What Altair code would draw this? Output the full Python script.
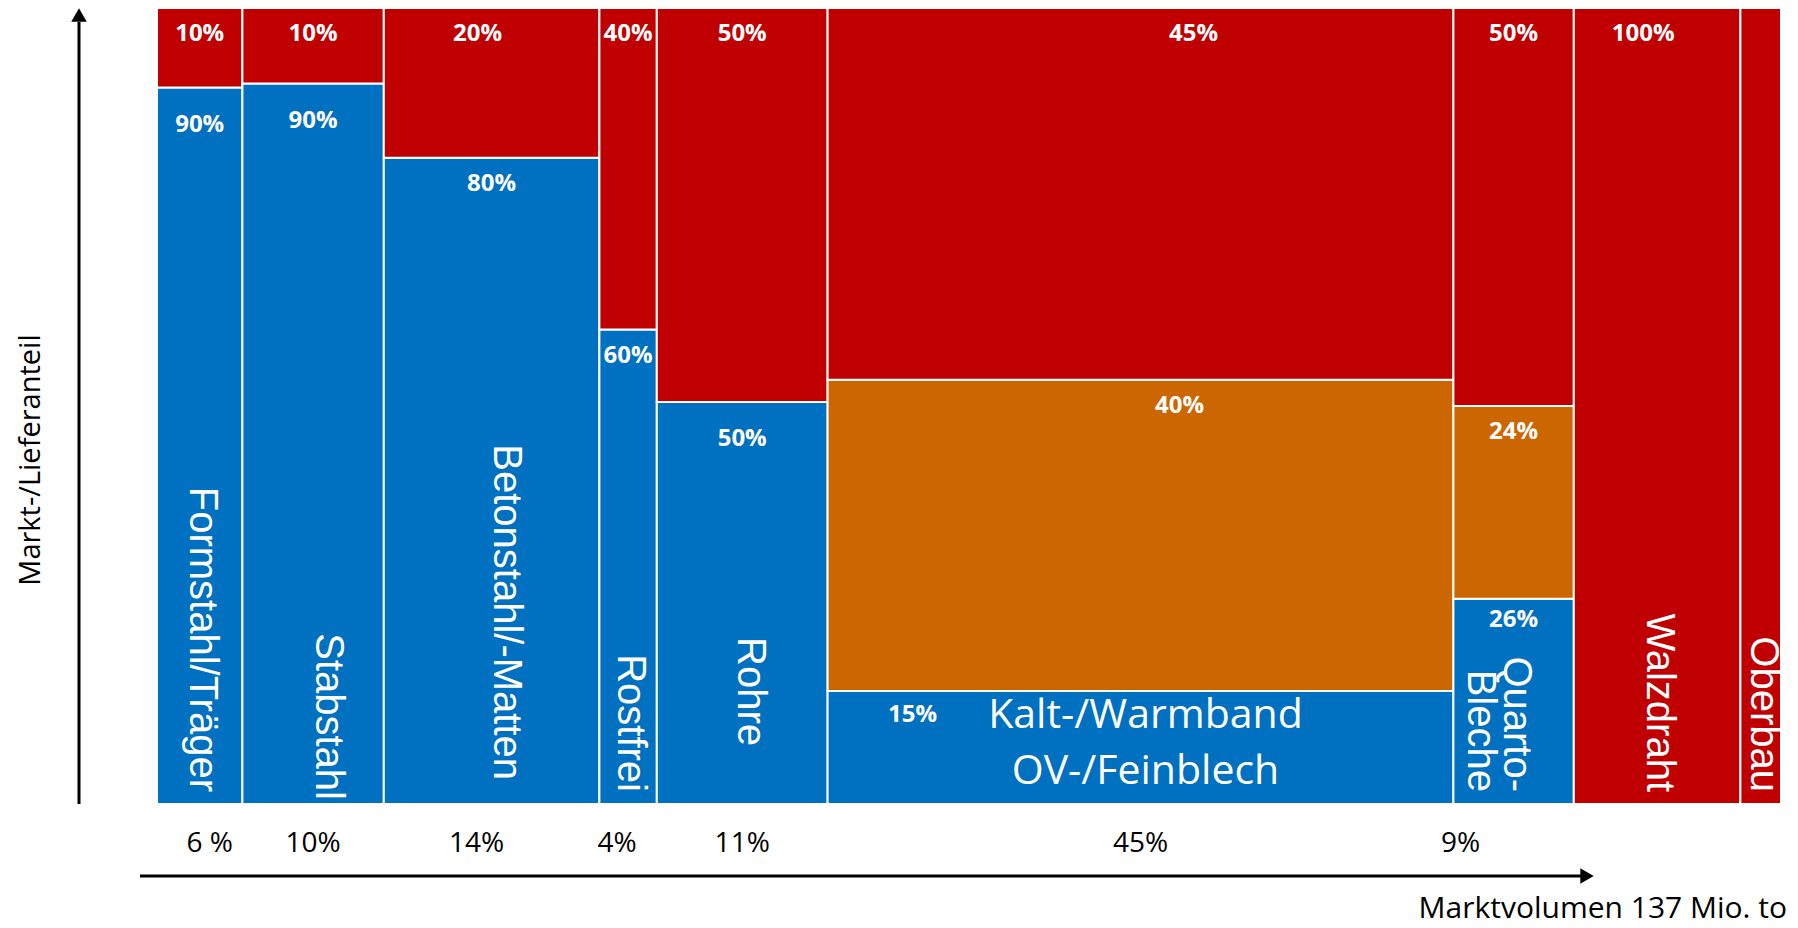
import altair as alt
import pandas as pd

# ---- data ----
categories = ["Formstahl/Träger", "Stabstahl", "Betonstahl/-Matten", "Rostfrei", "Rohre",
              "Kalt-/Warmband\nOV-/Feinblech", "Quarto-\nBleche", "Walzdraht", "Oberbau"]
volume_labels = ["6 %", "10%", "14%", "4%", "11%", "45%", "9%", "", ""]
column_widths = [6.1, 10.1, 15.4, 4.1, 12.2, 44.7, 8.6, 11.9, 2.9]   # drawn market volume share
blue_share = [90.0, 90.5, 81.2, 59.6, 50.5, 14.2, 25.8, 0.0, 0.0]
orange_share = [0.0, 0.0, 0.0, 0.0, 0.0, 39.1, 24.2, 0.0, 0.0]
red_share = [10.0, 9.5, 18.8, 40.4, 49.5, 46.7, 50.0, 100.0, 100.0]
blue_labels = ["90%", "90%", "80%", "60%", "50%", "15%", "26%", "", ""]
orange_labels = ["", "", "", "", "", "40%", "24%", "", ""]
red_labels = ["10%", "10%", "20%", "40%", "50%", "45%", "50%", "100%", ""]

segments = ["blue", "orange", "red"]
seg_colors = ["#0070C0", "#CC6600", "#C00000"]

rows, cols = [], []
x0 = 0.0
for i, cat in enumerate(categories):
    x1 = x0 + column_widths[i]
    y = 0.0
    for seg, shares, labels in (("blue", blue_share, blue_labels),
                                ("orange", orange_share, orange_labels),
                                ("red", red_share, red_labels)):
        h = shares[i]
        if h > 0:
            rows.append(dict(cat=i, seg=seg, x0=x0, x1=x1, xc=(x0 + x1) / 2,
                             y0=y, y1=y + h, label=labels[i]))
            y += h
    cols.append(dict(cat=i, name=cat, xc=(x0 + x1) / 2, vol=volume_labels[i]))
    x0 = x1
total = x0
seg_df = pd.DataFrame(rows)
col_df = pd.DataFrame(cols)
one = pd.DataFrame({"k": [0]})

W, H = 1624, 796
xs = alt.Scale(domain=[0, total], nice=False, zero=False)
ys = alt.Scale(domain=[0, 100], nice=False, zero=False)
X = lambda f: alt.X(f, type="quantitative", scale=xs, axis=None)
Y = lambda f: alt.Y(f, type="quantitative", scale=ys, axis=None)

rects = alt.Chart(seg_df).mark_rect(stroke="white", strokeWidth=2).encode(
    x=X("x0"), x2="x1", y=Y("y0"), y2="y1",
    color=alt.Color("seg:N", scale=alt.Scale(domain=segments, range=seg_colors), legend=None),
)

pct_style = dict(font="Open Sans", fontWeight="bold", fontSize=24, color="white", baseline="middle")


def pct_layer(cond, dx=0, dy=26):
    return alt.Chart(seg_df).transform_filter(cond).mark_text(dx=dx, dy=dy, **pct_style).encode(
        x=X("xc"), y=Y("y1"), text="label:N")


pct_layers = [
    pct_layer("datum.label != '' && datum.cat != 5 && !(datum.seg == 'blue' && (datum.cat <= 1 || datum.cat == 4 || datum.cat == 6)) && !(datum.seg == 'red' && (datum.cat == 2 || datum.cat == 7))"),
    pct_layer("datum.seg == 'red' && (datum.cat == 2 || datum.cat == 7)", dx=-14),
    pct_layer("datum.seg == 'blue' && (datum.cat <= 1 || datum.cat == 4)", dy=37),
    pct_layer("datum.seg == 'blue' && datum.cat == 6", dy=21),
    pct_layer("datum.cat == 5 && datum.seg == 'red'", dx=53),
    pct_layer("datum.cat == 5 && datum.seg == 'orange'", dx=39),
    pct_layer("datum.cat == 5 && datum.seg == 'blue'", dx=-228, dy=24),
]

rot_style = dict(font="Liberation Sans", fontSize=40, color="white", angle=90, align="right",
                 baseline="middle", lineBreak="\n", lineHeight=36)


def rot_layer(cond, dx=0, dy=0):
    # with angle 90, dx runs along the text (downwards), dy across it (positive = left)
    return alt.Chart(col_df).transform_filter(cond).mark_text(dx=dx, dy=dy, **rot_style).encode(
        x=X("xc"), y=alt.value(784), text="name:N")


rot_layers = [
    rot_layer("datum.cat == 0 || datum.cat == 3 || datum.cat >= 6", dy=-2),
    rot_layer("datum.cat == 1", dx=8, dy=-15),
    rot_layer("datum.cat == 2", dx=-12, dy=-14),
    rot_layer("datum.cat == 4", dx=-46, dy=-8),
]
cat_kalt = alt.Chart(col_df).transform_filter("datum.cat == 5").mark_text(
    font="Open Sans", fontSize=41, color="white", align="center", baseline="middle",
    lineBreak="\n", lineHeight=56, dx=5).encode(x=X("xc"), y=alt.value(708), text="name:N")

vol_style = dict(font="Open Sans", fontSize=28, color="black", baseline="middle")


def vol_layer(cond, dx=0):
    return alt.Chart(col_df).transform_filter(cond).mark_text(dx=dx, **vol_style).encode(
        x=X("xc"), y=alt.value(836), text="vol:N")


vol_layers = [
    vol_layer("datum.cat == 1 || datum.cat == 4 || datum.cat == 5"),
    vol_layer("datum.cat == 0", dx=10),
    vol_layer("datum.cat == 2", dx=-15),
    vol_layer("datum.cat == 3", dx=-11),
    vol_layer("datum.cat == 6", dx=-53),
]

base = alt.Chart(one)
y_arrow = base.mark_rule(color="black", strokeWidth=3).encode(
    x=alt.value(-78), y=alt.value(796), y2=alt.value(14))
y_head = base.mark_point(shape="triangle-up", filled=True, color="black", opacity=1, size=240).encode(
    x=alt.value(-78), y=alt.value(7))
x_arrow = base.mark_rule(color="black", strokeWidth=3).encode(
    x=alt.value(-17), x2=alt.value(1424), y=alt.value(868))
x_head = base.mark_point(shape="triangle-right", filled=True, color="black", opacity=1, size=240).encode(
    x=alt.value(1430), y=alt.value(868))
y_title = base.mark_text(text="Markt-/Lieferanteil", font="Open Sans", fontSize=29, color="black",
                         angle=270, align="center", baseline="middle").encode(
    x=alt.value(-126), y=alt.value(452))
x_title = base.mark_text(text="Marktvolumen 137 Mio. to", font="Open Sans", fontSize=30, color="black",
                         align="right", baseline="alphabetic").encode(
    x=alt.value(1630), y=alt.value(910))

chart = alt.layer(
    rects, *pct_layers, *rot_layers, cat_kalt, *vol_layers,
    y_arrow, y_head, x_arrow, x_head, y_title, x_title,
).properties(
    width=W, height=H,
    padding={"left": 149, "top": 0, "right": 9, "bottom": 116},
    autosize=alt.AutoSizeParams(type="none"),
).configure_view(stroke=None)

chart.save("out.html", embed_options={"renderer": "svg", "actions": False})
